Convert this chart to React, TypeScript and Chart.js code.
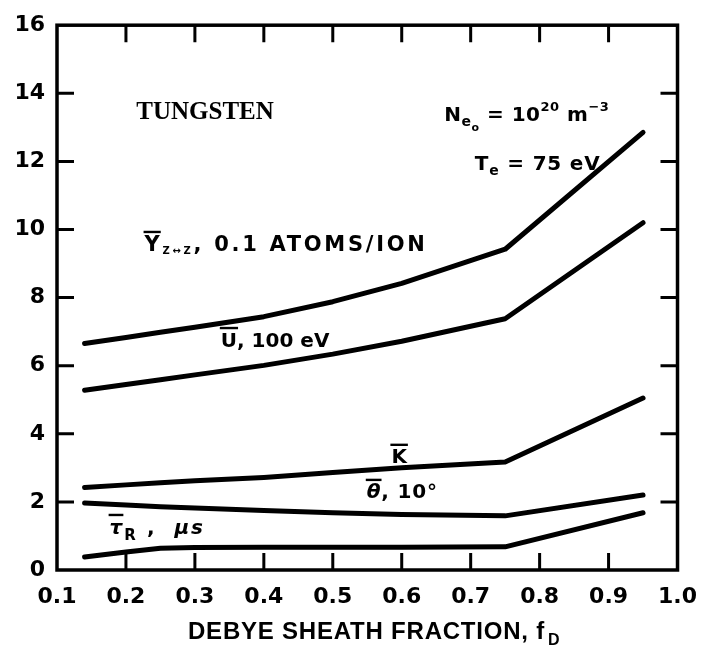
import React, { useEffect, useRef } from "react";
import { Chart, registerables } from "chart.js";

Chart.register(...registerables);

// ---- data ----
const fD = [0.14, 0.2, 0.25, 0.3, 0.4, 0.5, 0.6, 0.75, 0.95];
const yieldY = [6.65, 6.83, 6.98, 7.13, 7.44, 7.88, 8.42, 9.42, 12.85];
const energyU = [5.28, 5.45, 5.59, 5.73, 6.01, 6.34, 6.72, 7.38, 10.2];
const chargeK = [2.42, 2.5, 2.56, 2.62, 2.72, 2.86, 3.0, 3.17, 5.05];
const angleTheta = [1.97, 1.91, 1.86, 1.82, 1.75, 1.68, 1.63, 1.59, 2.2];
const timeTau = [0.38, 0.53, 0.64, 0.66, 0.67, 0.67, 0.67, 0.68, 1.68];
const seriesNames = ["Y", "U", "K", "theta", "tau"];
const X_MIN = 0.1;
const X_MAX = 1.0;
const Y_MIN = 0;
const Y_MAX = 16;

const SANS = "'DejaVu Sans', sans-serif";

type Seg = { t: string; size?: number; dy?: number; over?: boolean; italic?: boolean; family?: string };

function drawRich(ctx: CanvasRenderingContext2D, x: number, y: number, segs: Seg[], size: number, ls: number) {
  let cx = x;
  for (const s of segs) {
    const sz = s.size ?? size;
    ctx.font = `${s.italic ? "italic " : ""}bold ${sz}px ${s.family ?? SANS}`;
    (ctx as any).letterSpacing = `${ls}px`;
    const by = y + (s.dy ?? 0);
    ctx.fillText(s.t, cx, by);
    const w = ctx.measureText(s.t).width;
    if (s.over) {
      ctx.save();
      ctx.lineWidth = 2.4;
      ctx.beginPath();
      ctx.moveTo(cx - 1, by - sz * 0.73 - 4);
      ctx.lineTo(cx + w - ls + 1, by - sz * 0.73 - 4);
      ctx.stroke();
      ctx.restore();
    }
    cx += w;
  }
}

const framePlugin = {
  id: "frameTicks",
  afterDatasetsDraw(chart: any) {
    const { ctx, chartArea: a, scales } = chart;
    ctx.save();
    ctx.strokeStyle = "#000";
    ctx.lineWidth = 3.5;
    ctx.strokeRect(a.left, a.top, a.right - a.left, a.bottom - a.top);
    ctx.lineWidth = 3;
    const tl = 17;
    const xs = scales.x.ticks.map((t: any) => t.value).filter((v: number) => v > X_MIN + 1e-6 && v < X_MAX - 1e-6);
    for (const v of xs) {
      const px = scales.x.getPixelForValue(v);
      ctx.beginPath();
      ctx.moveTo(px, a.bottom);
      ctx.lineTo(px, a.bottom - tl);
      ctx.moveTo(px, a.top);
      ctx.lineTo(px, a.top + tl);
      ctx.stroke();
    }
    const ys = scales.y.ticks.map((t: any) => t.value).filter((v: number) => v > Y_MIN && v < Y_MAX);
    for (const v of ys) {
      const py = scales.y.getPixelForValue(v);
      ctx.beginPath();
      ctx.moveTo(a.left, py);
      ctx.lineTo(a.left + tl, py);
      ctx.moveTo(a.right, py);
      ctx.lineTo(a.right - tl, py);
      ctx.stroke();
    }
    ctx.restore();
  },
  afterDraw(chart: any) {
    const { ctx, chartArea: a, scales } = chart;
    const X = (v: number) => scales.x.getPixelForValue(v);
    const Y = (v: number) => scales.y.getPixelForValue(v);
    ctx.save();
    ctx.fillStyle = "#000";
    ctx.strokeStyle = "#000";
    ctx.textAlign = "left";
    ctx.textBaseline = "alphabetic";

    // TUNGSTEN
    drawRich(ctx, X(0.215), Y(13.24), [{ t: "TUNGSTEN", family: "'Liberation Serif', serif", size: 25 }], 25, 0);

    // N_eo = 10^20 m^-3
    drawRich(ctx, X(0.6616), Y(13.2), [
      { t: "N" },
      { t: "e", size: 14, dy: 5 },
      { t: "o", size: 11, dy: 10 },
      { t: " = 10" },
      { t: "20", size: 13, dy: -10 },
      { t: " m" },
      { t: "\u22123", size: 13, dy: -10 },
    ], 20, 0.5);

    // T_e = 75 eV
    drawRich(ctx, X(0.706), Y(11.74), [
      { t: "T" },
      { t: "e", size: 14, dy: 5 },
      { t: " = 75 eV" },
    ], 20, 0.8);

    // Y z<->z, 0.1 ATOMS/ION
    drawRich(ctx, X(0.227), Y(9.36), [
      { t: "Y", over: true },
      { t: "Z\u2194Z", size: 10, dy: 3 },
      { t: ", 0.1 ATOMS/ION" },
    ], 21, 2.7);

    // U, 100 eV
    drawRich(ctx, X(0.3376), Y(6.56), [
      { t: "U", over: true },
      { t: ", 100 eV" },
    ], 20, 0);

    // K
    drawRich(ctx, X(0.585), Y(3.13), [{ t: "K", over: true }], 20, 0);

    // theta, 10 deg
    drawRich(ctx, X(0.5493), Y(2.1), [
      { t: "\u03b8", over: true, italic: true },
      { t: ", 10\u00b0" },
    ], 20, 0.8);

    // tau_R, mu s
    drawRich(ctx, X(0.1763), Y(1.07), [
      { t: "\u03c4", over: true, italic: true },
      { t: "R", size: 15, dy: 6 },
      { t: " ,  " },
      { t: "\u03bcs", italic: true },
    ], 20, 2);

    // axis title
    const title = "DEBYE SHEATH FRACTION, f";
    ctx.font = `bold 24px 'Liberation Sans Narrow', 'Liberation Sans', sans-serif`;
    (ctx as any).letterSpacing = "0px";
    const w0 = ctx.measureText(title).width;
    const target = 357;
    const ls = (target - w0) / title.length;
    const tx = a.left + 131;
    const ty = a.bottom + 69;
    if (ls >= 0) {
      (ctx as any).letterSpacing = `${ls}px`;
      ctx.fillText(title, tx, ty);
    } else {
      ctx.save();
      ctx.translate(tx, ty);
      ctx.scale(target / w0, 1);
      ctx.fillText(title, 0, 0);
      ctx.restore();
    }
    (ctx as any).letterSpacing = "0px";
    ctx.font = `bold 16px 'Liberation Sans', sans-serif`;
    ctx.fillText("D", tx + target + 3, ty + 6);
    ctx.restore();
  },
};

export default function App() {
  const ref = useRef<HTMLCanvasElement | null>(null);
  useEffect(() => {
    if (!ref.current) return;
    const all = [yieldY, energyU, chargeK, angleTheta, timeTau];
    const chart = new Chart(ref.current, {
      type: "line",
      data: {
        datasets: all.map((vals, i) => ({
          label: seriesNames[i],
          data: fD.map((x, j) => ({ x, y: vals[j] })),
          borderColor: "#000",
          borderWidth: 5,
          borderCapStyle: "round",
          borderJoinStyle: "round",
          pointRadius: 0,
          tension: 0,
          fill: false,
        })),
      },
      options: {
        animation: false,
        responsive: false,
        maintainAspectRatio: false,
        events: [],
        layout: { padding: { left: 0, top: 16, right: 29, bottom: 0 } },
        plugins: { legend: { display: false }, tooltip: { enabled: false }, title: { display: false } },
        scales: {
          x: {
            type: "linear",
            min: X_MIN,
            max: X_MAX,
            grid: { display: false, drawTicks: false },
            border: { display: false },
            ticks: {
              stepSize: 0.1,
              padding: 14,
              color: "#000",
              maxRotation: 0,
              autoSkip: false,
              font: { family: SANS, weight: "bold", size: 22 },
              callback: (v: any) => Number(v).toFixed(1),
            },
            afterFit: (s: any) => {
              s.height = 85;
            },
          },
          y: {
            type: "linear",
            min: Y_MIN,
            max: Y_MAX,
            grid: { display: false, drawTicks: false },
            border: { display: false },
            ticks: {
              stepSize: 2,
              padding: 12,
              color: "#000",
              font: { family: SANS, weight: "bold", size: 22 },
            },
            afterFit: (s: any) => {
              s.width = 57;
            },
          },
        },
      },
      plugins: [framePlugin],
    } as any);
    return () => chart.destroy();
  }, []);
  return (
    <div style={{ position: "absolute", left: 0, top: 0, width: 711, height: 655, background: "#fff" }}>
      <canvas ref={ref} width={711} height={655} style={{ display: "block" }} />
    </div>
  );
}
